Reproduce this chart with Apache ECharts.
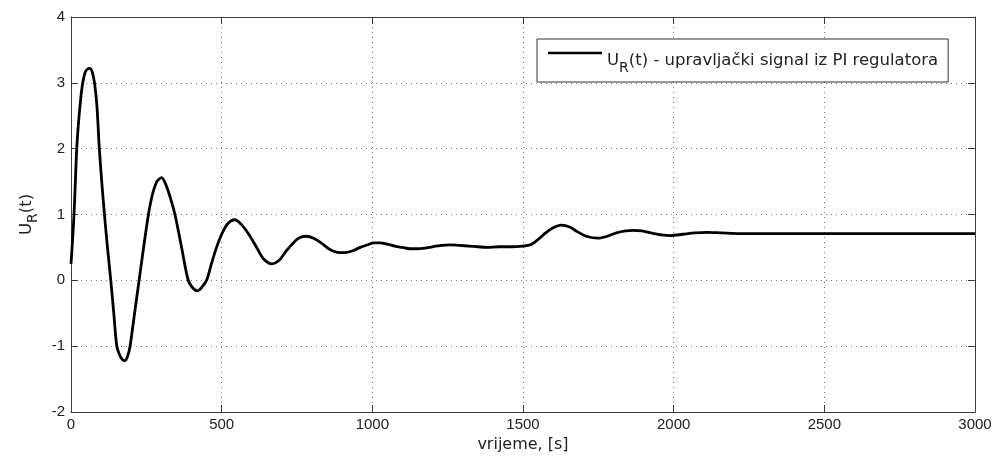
<!DOCTYPE html>
<html>
<head>
<meta charset="utf-8">
<script src="https://cdn.jsdelivr.net/npm/echarts@6/dist/echarts.min.js"></script>
<style>
html,body{margin:0;padding:0;background:#fff;}
#c{width:998px;height:461px;}
</style>
</head>
<body>
<div id="c"></div>
<script>
// time [s]
const timeS = [0,5,10,15,19,25,32,39,47,55,62,70,78,86,94,102,111,121,132,142,152,163,172,180,188,196,211,226,241,257,270,285,301,315,330,345,367,389,405,420,435,450,466,483,500,520,544,565,590,616,640,667,690,715,740,760,782,805,830,855,880,909,935,960,985,1005,1026,1050,1075,1100,1125,1147,1175,1200,1230,1258,1290,1320,1350,1380,1420,1460,1500,1525,1550,1575,1600,1628,1655,1680,1710,1749,1780,1810,1840,1866,1895,1925,1960,1990,2030,2070,2110,2160,2220,2300,2400,2500,2600,2700,2800,2900,3000];
// U_R(t)
const uR = [0.25,0.6,1.0,1.55,2.0,2.4,2.75,3.0,3.16,3.21,3.22,3.17,3.0,2.65,2.0,1.5,1.0,0.5,0.0,-0.5,-1.0,-1.15,-1.21,-1.22,-1.15,-1.0,-0.5,0.0,0.5,1.0,1.3,1.5,1.56,1.45,1.25,1.0,0.5,0.0,-0.12,-0.16,-0.1,0.0,0.25,0.5,0.7,0.86,0.92,0.85,0.7,0.5,0.32,0.25,0.3,0.45,0.58,0.65,0.67,0.64,0.57,0.48,0.43,0.42,0.45,0.5,0.54,0.57,0.57,0.55,0.52,0.5,0.48,0.48,0.49,0.51,0.53,0.54,0.53,0.52,0.51,0.5,0.51,0.51,0.52,0.54,0.62,0.72,0.8,0.84,0.81,0.74,0.67,0.64,0.67,0.72,0.75,0.76,0.75,0.72,0.69,0.68,0.7,0.72,0.73,0.72,0.71,0.71,0.71,0.71,0.71,0.71,0.71,0.71,0.71];
const xTicks = [0,500,1000,1500,2000,2500,3000];
const yTicks = [-2,-1,0,1,2,3,4];
const seriesName = 'U_R(t) - upravljački signal iz PI regulatora';

const axisColor = '#3a3a3a';
const textColor = '#222';
const tickFont = 'Liberation Sans, Arial, sans-serif';
const nameFont = 'DejaVu Sans, sans-serif';
const richSub = {
  a: {fontFamily: nameFont, fontSize: 16.5, lineHeight: 16, padding: [7,0,0,0], verticalAlign: 'top', color: textColor},
  b: {fontFamily: nameFont, fontSize: 14, lineHeight: 14, padding: [16,0,0,0], verticalAlign: 'top', color: textColor}
};

const chart = echarts.init(document.getElementById('c'), null, {renderer: 'canvas'});
const data = timeS.map((t, i) => [t, uR[i]]);
const gridLine = {show: true, lineStyle: {color: '#777', type: [1, 4], width: 1}};
chart.setOption({
  animation: false,
  backgroundColor: '#fff',
  grid: {left: 71, right: 23, top: 17, bottom: 49},
  legend: {
    left: 537, top: 39,
    padding: [6, 10, 7, 11],
    borderColor: '#333', borderWidth: 1, backgroundColor: '#fff',
    itemWidth: 54, itemHeight: 2.6,
    data: [{name: seriesName, icon: 'rect'}],
    itemStyle: {color: '#000'},
    formatter: () => '{a|U}{b|R}{a|(t) - upravljački signal iz PI regulatora}',
    textStyle: {rich: richSub}
  },
  xAxis: [{
    type: 'value', min: xTicks[0], max: xTicks[xTicks.length-1], interval: 500,
    name: 'vrijeme, [s]', nameLocation: 'middle', nameGap: 25,
    nameTextStyle: {fontFamily: nameFont, fontSize: 16, color: textColor},
    axisLine: {show: true, onZero: false, lineStyle: {color: axisColor, width: 1}},
    axisTick: {show: true, inside: true, length: 7, lineStyle: {color: axisColor}},
    axisLabel: {fontFamily: tickFont, fontSize: 15, color: textColor, margin: 5, formatter: v => String(v)},
    splitLine: gridLine
  }, {
    type: 'value', position: 'top', min: xTicks[0], max: xTicks[xTicks.length-1], interval: 500,
    axisLine: {show: true, onZero: false, lineStyle: {color: axisColor, width: 1}},
    axisTick: {show: true, inside: true, length: 7, lineStyle: {color: axisColor}},
    axisLabel: {show: false}, splitLine: {show: false}
  }],
  yAxis: [{
    type: 'value', min: yTicks[0], max: yTicks[yTicks.length-1], interval: 1,
    name: '{a|U}{b|R}{a|(t)}', nameLocation: 'middle', nameGap: 38,
    nameTextStyle: {rich: richSub},
    axisLine: {show: true, onZero: false, lineStyle: {color: axisColor, width: 1}},
    axisTick: {show: true, inside: true, length: 7, lineStyle: {color: axisColor}},
    axisLabel: {fontFamily: tickFont, fontSize: 15, color: textColor, margin: 6, formatter: v => String(v)},
    splitLine: gridLine
  }, {
    type: 'value', position: 'right', min: yTicks[0], max: yTicks[yTicks.length-1], interval: 1,
    axisLine: {show: true, onZero: false, lineStyle: {color: axisColor, width: 1}},
    axisTick: {show: true, inside: true, length: 7, lineStyle: {color: axisColor}},
    axisLabel: {show: false}, splitLine: {show: false}
  }],
  series: [{
    name: seriesName, type: 'line', data: data, symbol: 'none', smooth: 0.3,
    lineStyle: {color: '#000', width: 2.8}, itemStyle: {color: '#000'},
    xAxisIndex: 0, yAxisIndex: 0
  }]
});
</script>
</body>
</html>
